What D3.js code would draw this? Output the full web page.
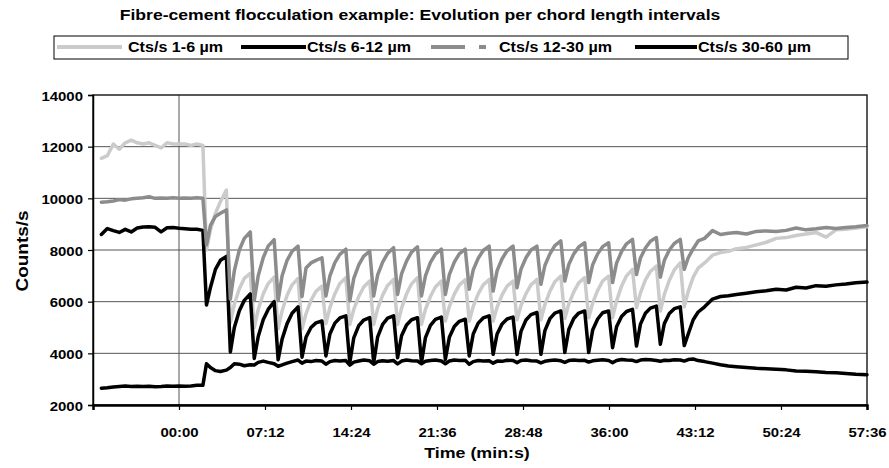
<!DOCTYPE html>
<html>
<head>
<meta charset="utf-8">
<script src="https://cdn.jsdelivr.net/npm/d3@7"></script>
<style>
  body { margin: 0; background: #fff; }
  text { font-family: "Liberation Sans", Arial, sans-serif; font-weight: bold; fill: #000; }
</style>
</head>
<body>
<div id="chart"></div>
<script>
// Sampling times (seconds from the start of flocculant dosing)
var timeSec = [
  -390, -360, -330, -300, -270, -240, -210, -180, -150, -120, -90, -60, -30, 0, 30, 60, 90, 120,
  138, 158, 183, 208, 238,   258, 278, 303, 328, 358,   378, 398, 423, 448, 478,
  498, 518, 543, 568, 598,   618, 638, 663, 688, 718,   738, 758, 783, 808, 838,
  858, 878, 903, 928, 958,   978, 998, 1023, 1048, 1078,   1098, 1118, 1143, 1168, 1198,
  1218, 1238, 1263, 1288, 1318,   1338, 1358, 1383, 1408, 1438,   1458, 1478, 1503, 1528, 1558,
  1578, 1598, 1623, 1648, 1678,   1698, 1718, 1743, 1768, 1798,   1818, 1838, 1863, 1888, 1918,
  1938, 1958, 1983, 2008, 2038,   2058, 2078, 2103, 2128, 2158,   2178, 2198, 2223, 2248, 2278,
  2298, 2318, 2343, 2368, 2398,   2418, 2438, 2463, 2488, 2518,
  2538, 2558, 2583, 2608, 2640, 2680, 2720, 2760, 2800, 2850, 2900, 2950, 3000, 3050,
  3100, 3150, 3200, 3250, 3300, 3350, 3400, 3456
];

var cts1to6 = [
  11550, 11650, 12100, 11900, 12150, 12250, 12150, 12100, 12150, 12050, 11950, 12150, 12100, 12100, 12100, 12050, 12100, 12050,
  8000, 8780, 9420, 9870, 10320,   5200, 5900, 6500, 6900, 7100,   5000, 5700, 6300, 6700, 6950,
  4950, 5650, 6250, 6650, 6900,   4950, 5530, 6050, 6400, 6600,   5150, 5770, 6310, 6700, 6930,
  5120, 5700, 6200, 6570, 6800,   5120, 5730, 6250, 6630, 6860,   5120, 5750, 6300, 6690, 6930,
  5120, 5700, 6200, 6570, 6800,   5250, 5810, 6290, 6640, 6850,   5250, 5820, 6300, 6650, 6860,
  5250, 5790, 6260, 6600, 6800,   5300, 5850, 6310, 6650, 6860,   5300, 5890, 6400, 6770, 6990,
  5350, 5910, 6380, 6730, 6930,   5380, 5950, 6440, 6800, 6990,   5380, 6030, 6600, 7000, 7250,
  5770, 6340, 6840, 7170, 7380,   5640, 6280, 6830, 7230, 7500,
  5800, 6400, 6950, 7300, 7500, 7800, 7900, 7950, 8050, 8100, 8200, 8300, 8450, 8480,
  8560, 8620, 8680, 8500, 8780, 8800, 8850, 8900
];

var cts6to12 = [
  8600, 8830, 8750, 8680, 8800, 8700, 8850, 8890, 8900, 8880, 8700, 8860, 8870, 8840, 8820, 8800, 8800, 8760,
  5870, 6550, 7250, 7600, 7750,   4050, 5000, 5650, 6050, 6300,   3800, 4650, 5300, 5700, 6000,
  3750, 4550, 5150, 5550, 5800,   3850, 4620, 5000, 5180, 5250,   3900, 4750, 5170, 5370, 5450,
  3640, 4600, 5070, 5290, 5380,   3640, 4640, 5120, 5360, 5450,   3830, 4680, 5100, 5300, 5380,
  3640, 4610, 5080, 5310, 5400,   3760, 4620, 5040, 5240, 5320,   3900, 4750, 5170, 5370, 5450,
  3960, 4750, 5140, 5330, 5400,   3960, 4850, 5290, 5500, 5580,   3960, 4880, 5340, 5560, 5640,
  4030, 4920, 5350, 5560, 5640,   4030, 4900, 5330, 5570, 5640,   4220, 5030, 5430, 5620, 5700,
  4280, 5130, 5550, 5750, 5830,   4350, 5150, 5540, 5730, 5800,
  4300, 4750, 5300, 5600, 5800, 6100, 6200, 6230, 6280, 6330, 6380, 6420, 6480, 6450,
  6560, 6530, 6620, 6600, 6650, 6680, 6730, 6760
];

var cts12to30 = [
  9850, 9870, 9900, 9950, 9930, 9980, 10000, 10020, 10060, 10000, 10010, 10000, 10020, 10000, 10010, 10000, 10020, 10000,
  8200, 8950, 9300, 9420, 9550,   6100, 7200, 8000, 8450, 8700,   6050, 7000, 7700, 8150, 8400,
  6050, 7000, 7600, 7950, 8150,   6200, 7300, 7500, 7600, 7700,   6220, 7000, 7510, 7830, 8030,
  6030, 6900, 7420, 7760, 7960,   6220, 7040, 7530, 7870, 8090,   6280, 7080, 7570, 7920, 8120,
  6220, 7000, 7520, 7840, 8030,   6280, 7050, 7530, 7850, 8030,   6480, 7230, 7680, 7980, 8150,
  6410, 7200, 7660, 7970, 8150,   6540, 7260, 7700, 8000, 8150,   6670, 7400, 7850, 8170, 8350,
  6800, 7440, 7850, 8120, 8280,   6740, 7430, 7850, 8130, 8280,   6740, 7490, 7940, 8240, 8410,
  7050, 7690, 8080, 8340, 8480,   6950, 7600, 8000, 8250, 8410,
  7250, 7700, 8050, 8350, 8450, 8750, 8600, 8650, 8680, 8620, 8720, 8740, 8720, 8760,
  8850, 8780, 8820, 8870, 8830, 8870, 8900, 8950
];

var cts30to60 = [
  2650, 2670, 2700, 2720, 2740, 2720, 2730, 2720, 2730, 2710, 2720, 2740, 2730, 2740, 2730, 2740, 2760, 2760,
  3600, 3450, 3330, 3300, 3350,   3450, 3600, 3580, 3520, 3560,   3550, 3650, 3700, 3650, 3600,
  3500, 3550, 3620, 3680, 3740,   3620, 3700, 3680, 3720, 3700,   3580, 3680, 3720, 3700, 3720,
  3540, 3660, 3700, 3740, 3710,   3580, 3680, 3710, 3690, 3720,   3590, 3700, 3740, 3710, 3700,
  3600, 3690, 3720, 3740, 3700,   3600, 3700, 3740, 3720, 3730,   3580, 3680, 3720, 3700, 3710,
  3620, 3700, 3690, 3730, 3720,   3640, 3720, 3740, 3710, 3700,   3630, 3690, 3720, 3740, 3710,
  3650, 3720, 3740, 3720, 3730,   3660, 3710, 3730, 3750, 3720,   3640, 3720, 3760, 3740, 3730,
  3680, 3740, 3760, 3750, 3720,   3690, 3730, 3720, 3750, 3740,
  3700, 3760, 3780, 3720, 3680, 3620, 3560, 3510, 3480, 3450, 3420, 3400, 3380, 3360,
  3320, 3310, 3290, 3260, 3250, 3220, 3190, 3170
];

var seriesNames = ["Cts/s 1-6 \u00b5m", "Cts/s 6-12 \u00b5m", "Cts/s 12-30 \u00b5m", "Cts/s 30-60 \u00b5m"];
var seriesColors = ["#cbcbcb", "#000000", "#8c8c8c", "#000000"];
var seriesValues = [cts1to6, cts6to12, cts12to30, cts30to60];

var xTickValues = [-432, 0, 432, 864, 1296, 1728, 2160, 2592, 3024, 3456];
var xTickLabels = ["", "00:00", "07:12", "14:24", "21:36", "28:48", "36:00", "43:12", "50:24", "57:36"];
var yTickValues = [2000, 4000, 6000, 8000, 10000, 12000, 14000];
var yGridValues = [4000, 6000, 8000, 10000, 12000];

var width = 889, height = 468;
var plotLeft = 93, plotRight = 867, plotTop = 95, plotBottom = 405;
var sx = 1.15; // text in the original is a bit wide

var svg = d3.select('#chart').append('svg')
    .attr('width', width)
    .attr('height', height)
    .style('background', '#fff');

var x = d3.scaleLinear().domain([-432, 3456]).range([plotLeft, plotRight]);
var y = d3.scaleLinear().domain([2000, 14000]).range([plotBottom, plotTop]);

// horizontal gridlines
svg.selectAll('.grid')
    .data(yGridValues)
    .enter().append('line')
    .attr('x1', plotLeft).attr('x2', plotRight)
    .attr('y1', d => y(d)).attr('y2', d => y(d))
    .attr('stroke', '#555').attr('stroke-width', 1);

// vertical axis crossing at 00:00
svg.append('line')
    .attr('x1', x(0)).attr('x2', x(0))
    .attr('y1', plotTop).attr('y2', plotBottom)
    .attr('stroke', '#555').attr('stroke-width', 1);

// plot border
svg.append('rect')
    .attr('x', plotLeft).attr('y', plotTop)
    .attr('width', plotRight - plotLeft).attr('height', plotBottom - plotTop)
    .attr('fill', 'none').attr('stroke', '#222').attr('stroke-width', 1.5);

// series lines
var line = d3.line()
    .x((d, i) => x(timeSec[i]))
    .y(d => y(d));

seriesValues.forEach(function (vals, s) {
    svg.append('path')
        .datum(vals)
        .attr('d', line)
        .attr('fill', 'none')
        .attr('stroke', seriesColors[s])
        .attr('stroke-width', 3.5)
        .attr('stroke-linejoin', 'round')
        .attr('stroke-linecap', 'round');
});

// x axis
var xAxis = d3.axisBottom(x)
    .tickValues(xTickValues)
    .tickSize(5)
    .tickFormat((d, i) => xTickLabels[i]);
var gx = svg.append('g')
    .attr('transform', 'translate(0,' + plotBottom + ')')
    .call(xAxis);
gx.select('.domain').attr('stroke', '#000').attr('stroke-width', 2.5);
gx.selectAll('.tick line').attr('stroke', '#000').attr('stroke-width', 1.2);
gx.selectAll('.tick text')
    .attr('y', 0).attr('dy', 0)
    .attr('transform', 'translate(0,32) scale(' + sx + ',1)')
    .style('font-size', '13px')
    .style('font-family', '"Liberation Sans", Arial, sans-serif')
    .style('font-weight', 'bold');

// y axis
var yAxis = d3.axisLeft(y)
    .tickValues(yTickValues)
    .tickSize(5)
    .tickFormat(d3.format('d'));
var gy = svg.append('g')
    .attr('transform', 'translate(' + plotLeft + ',0)')
    .call(yAxis);
gy.select('.domain').attr('stroke', '#000').attr('stroke-width', 1.5);
gy.selectAll('.tick line').attr('stroke', '#000').attr('stroke-width', 1.2);
gy.selectAll('.tick text')
    .attr('x', 0).attr('dy', 0)
    .attr('transform', 'translate(-10,5) scale(' + sx + ',1)')
    .style('font-size', '13px')
    .style('font-family', '"Liberation Sans", Arial, sans-serif')
    .style('font-weight', 'bold');

// axis titles
svg.append('text')
    .attr('text-anchor', 'middle')
    .attr('transform', 'translate(477,458) scale(' + sx + ',1)')
    .style('font-size', '15.5px')
    .text('Time (min:s)');

svg.append('text')
    .attr('text-anchor', 'middle')
    .attr('transform', 'translate(28,251) rotate(-90) scale(' + sx + ',1)')
    .style('font-size', '16.5px')
    .text('Counts/s');

// title
svg.append('text')
    .attr('text-anchor', 'middle')
    .attr('transform', 'translate(420,20) scale(' + sx + ',1)')
    .style('font-size', '15.3px')
    .text('Fibre-cement flocculation example: Evolution per chord length intervals');

// legend
svg.append('rect')
    .attr('x', 54).attr('y', 36)
    .attr('width', 794).attr('height', 23)
    .attr('fill', '#fff').attr('stroke', '#000').attr('stroke-width', 1);

var legendItems = [
    { x1: 57, x2: 122, tx: 128, dash: null },
    { x1: 241, x2: 306, tx: 307, dash: null },
    { x1: 431, x2: 486, tx: 499, dash: '34,14,7,30' },
    { x1: 635, x2: 697, tx: 698, dash: null }
];

var leg = svg.selectAll('.legendItem')
    .data(legendItems)
    .enter().append('g')
    .attr('class', 'legendItem');

leg.append('line')
    .attr('x1', d => d.x1).attr('x2', d => d.x2)
    .attr('y1', 47).attr('y2', 47)
    .attr('stroke', (d, i) => seriesColors[i])
    .attr('stroke-width', 4)
    .attr('stroke-dasharray', d => d.dash);

leg.append('text')
    .attr('transform', d => 'translate(' + d.tx + ',52) scale(' + sx + ',1)')
    .style('font-size', '14px')
    .text((d, i) => seriesNames[i]);
</script>
</body>
</html>
